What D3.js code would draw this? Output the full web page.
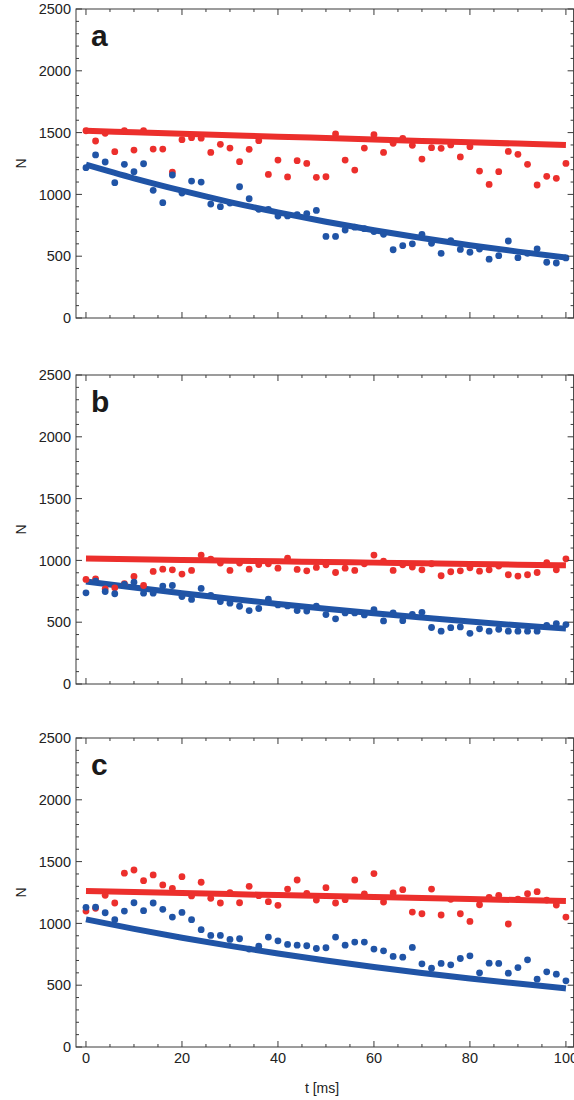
<!DOCTYPE html>
<head>
<meta charset="utf-8">
<style>
body{
  margin:0;
  background:#fff;
}
text{
  font-family: "Liberation Sans", Arial, Helvetica, sans-serif;
  fill:#222;
}
.frame{
  fill:none;
  stroke:#3a3a3a;
  stroke-width:1;
}
.tick{
  stroke:#3a3a3a;
  stroke-width:1;
}
.fit{
  fill:none;
  stroke-width:6;
}
</style>
</head>
<body>
<svg width="574" height="1100"></svg>
<script src="https://cdn.jsdelivr.net/npm/d3@7"></script>
<script type="text/javascript">

var svg = d3.select("svg");

// sample times (ms)
var tMs = [0,2,4,6,8,10,12,14,16,18,20,22,24,26,28,30,32,34,36,38,40,42,44,46,48,50,
  52,54,56,58,60,62,64,66,68,70,72,74,76,78,80,82,84,86,88,90,92,94,96,98,100];

// times where the fitted curves were read
var fitT = [0,10,20,30,40,50,60,70,80,90,100];

// panel a
var redA = [1515,1432,1494,1346,1515,1359,1515,1367,1367,1181,1443,1459,1455,1340,1405,1375,1265,1365,1435,1162,1278,1141,1273,1251,1138,1143,
  1489,1278,1197,1375,1483,1340,1413,1454,1397,1286,1378,1373,1400,1303,1386,1189,1081,1184,1348,1324,1243,1076,1146,1130,1251];
var blueA = [1216,1319,1262,1095,1243,1184,1248,1033,933,1157,1011,1108,1100,922,901,930,1062,965,879,879,825,826,837,845,870,660,
  660,712,735,723,700,677,552,585,600,677,604,523,626,555,532,558,476,504,623,488,523,560,451,445,486];
var redFitA = [1515,1503,1491,1479,1467,1456,1445,1433,1422,1411,1400];
var blueFitA = [1240,1130,1030,938,855,779,710,647,589,537,490];

// panel b
var redB = [846,851,770,778,811,870,797,911,929,924,889,919,1043,1011,978,919,978,929,967,973,937,1019,927,916,943,965,
  902,937,919,973,1043,994,919,965,946,924,973,876,908,916,940,913,924,954,884,873,884,902,981,924,1013];
var blueB = [738,832,748,730,805,824,735,735,792,797,708,684,773,716,667,654,629,594,611,686,640,632,594,590,629,562,
  527,575,575,559,601,510,576,512,563,580,457,427,456,462,410,446,427,443,427,427,427,427,475,489,481];
var redFitB = [1015,1009,1004,998,993,987,982,976,971,965,960];
var blueFitB = [830,780,735,690,648,608,572,538,505,475,448];

// panel c
var redC = [1100,1122,1227,1165,1406,1432,1346,1392,1311,1284,1378,1222,1333,1203,1165,1248,1167,1300,1224,1176,1146,1278,1351,1243,1189,1289,
  1165,1192,1351,1238,1403,1173,1246,1273,1092,1078,1278,1068,1195,1078,1016,1151,1211,1227,995,1197,1240,1257,1189,1149,1051];
var blueC = [1130,1132,1086,1030,1100,1167,1103,1165,1114,1051,1089,1030,949,903,903,870,876,792,816,889,859,830,824,819,797,803,
  889,824,849,849,792,778,733,727,806,673,638,676,665,716,738,600,678,676,597,643,705,549,608,589,535];
var redFitC = [1262,1254,1246,1237,1229,1221,1213,1205,1197,1189,1181];
var blueFitC = [1033,956,884,818,757,700,648,599,554,513,474];

var panelLabels = ["a","b","c"];
var yTicks = [0,500,1000,1500,2000,2500];
var xTicks = [0,20,40,60,80,100];

var panels = [
  {label:"a", top:9, red:redA, blue:blueA, redFit:redFitA, blueFit:blueFitA},
  {label:"b", top:375, red:redB, blue:blueB, redFit:redFitB, blueFit:blueFitB},
  {label:"c", top:738, red:redC, blue:blueC, redFit:redFitC, blueFit:blueFitC}
];

var red = "#ec2f2c", blue = "#2054a6";
var panelH = 309;

var x = d3.scaleLinear().domain([-2.08,101.6]).range([76,573.6]);

panels.forEach(function(p,pi){
  var y = d3.scaleLinear().domain([0,2500]).range([p.top+panelH, p.top]);
  var g = svg.append("g");
  var x0 = x.range()[0], x1 = x.range()[1];
  var y0 = y.range()[0], y1 = y.range()[1];

  // fit curves
  var line = d3.line()
    .x(function(d,i){ return x(fitT[i]); })
    .y(function(d){ return y(d); })
    .curve(d3.curveMonotoneX);

  g.append("path").attr("class","fit").attr("d", line(p.redFit)).style("stroke", red);
  g.append("path").attr("class","fit").attr("d", line(p.blueFit)).style("stroke", blue);

  g.selectAll(".rdot").data(p.red).enter().append("circle")
    .attr("class","rdot")
    .attr("cx", function(d,i){ return x(tMs[i]); })
    .attr("cy", function(d){ return y(d); })
    .attr("r", 3.4)
    .style("fill", red);

  g.selectAll(".bdot").data(p.blue).enter().append("circle")
    .attr("class","bdot")
    .attr("cx", function(d,i){ return x(tMs[i]); })
    .attr("cy", function(d){ return y(d); })
    .attr("r", 3.4)
    .style("fill", blue);

  // frame
  g.append("rect").attr("class","frame")
    .attr("x", x0).attr("y", y1)
    .attr("width", x1-x0).attr("height", y0-y1);

  // y ticks, minor every 100
  var yMinor = d3.range(0,2501,100);
  yMinor.forEach(function(v){
    var major = v % 500 == 0;
    var len = major ? 6 : 3;
    g.append("line").attr("class","tick")
      .attr("x1", x0).attr("x2", x0+len).attr("y1", y(v)).attr("y2", y(v));
    g.append("line").attr("class","tick")
      .attr("x1", x1).attr("x2", x1-len).attr("y1", y(v)).attr("y2", y(v));
  });
  // x ticks, minor every 5
  var xMinor = d3.range(0,101,5);
  xMinor.forEach(function(v){
    var major = v % 20 == 0;
    var len = major ? 6 : 3;
    g.append("line").attr("class","tick")
      .attr("x1", x(v)).attr("x2", x(v)).attr("y1", y0).attr("y2", y0-len);
    g.append("line").attr("class","tick")
      .attr("x1", x(v)).attr("x2", x(v)).attr("y1", y1).attr("y2", y1+len);
  });

  g.selectAll(".ylab").data(yTicks).enter().append("text")
    .attr("class","ylab")
    .attr("x", x0-5)
    .attr("y", function(d){ return y(d); })
    .attr("dy", "0.36em")
    .attr("text-anchor","end")
    .style("font-size","14.5px")
    .text(String);

  g.append("text")
    .attr("transform","translate(21," + ((y0+y1)/2) + ") rotate(-90)")
    .attr("text-anchor","middle")
    .attr("dy","0.35em")
    .style("font-size","14px")
    .text("N");

  g.append("text")
    .attr("x", 91)
    .attr("y", y1+37)
    .style("font-size","30px")
    .style("font-weight","bold")
    .style("fill","#1a1a1a")
    .text(panelLabels[pi]);

  if (pi == panels.length-1) {
    g.selectAll(".xlab").data(xTicks).enter().append("text")
      .attr("class","xlab")
      .attr("x", function(d){ return x(d); })
      .attr("y", y0+16)
      .attr("text-anchor","middle")
      .style("font-size","14.5px")
      .text(String);

    g.append("text")
      .attr("x", 322)
      .attr("y", y0+46)
      .attr("text-anchor","middle")
      .style("font-size","14px")
      .text("t [ms]");
  }
});

</script>
</body>
